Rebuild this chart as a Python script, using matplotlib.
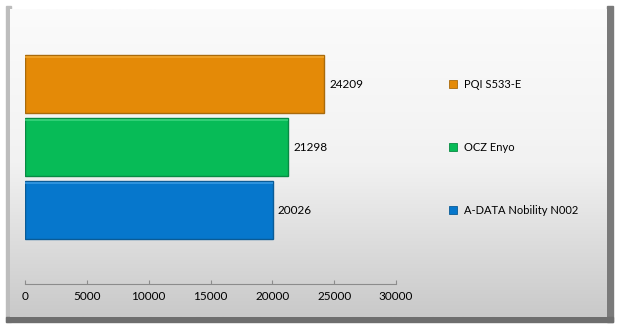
import numpy as np
import matplotlib
matplotlib.use("Agg")
import matplotlib.pyplot as plt
import matplotlib.transforms as mtransforms
from matplotlib.patches import Rectangle

# data
drives = ['A-DATA Nobility N002', 'OCZ Enyo', 'PQI S533-E']
scores = [20026, 21298, 24209]
colors = ['#0677CC', '#07BB57', '#E48A07']
edges = ['#0a5b96', '#088a43', '#a86a0c']
highlights = ['#3b9ce4', '#3fd680', '#f2a830']
xticks = [0, 5000, 10000, 15000, 20000, 25000, 30000]

plt.rcParams['font.family'] = ['Lato', 'DejaVu Sans']

W, H = 620, 328
fig = plt.figure(figsize=(W / 100, H / 100), dpi=100)

# background panel with gradient and shaded border
bg = fig.add_axes([0, 0, 1, 1])
bg.set_xlim(0, W)
bg.set_ylim(H, 0)
bg.axis('off')
bg.add_patch(Rectangle((0, 0), W, H, color='white', zorder=0))
bg.add_patch(Rectangle((6, 6), 5, 316, color='#bdbdbd', zorder=1))
bg.add_patch(Rectangle((607, 6), 6, 316, color='#7a7a7a', zorder=1))
bg.add_patch(Rectangle((6, 317), 607, 5, color='#6e6e6e', zorder=1))
grad = np.linspace(0, 1, 256)[:, None]
cmap = matplotlib.colors.LinearSegmentedColormap.from_list('bg', ['#fbfbfb', '#f2f2f2', '#c9c9c9'])
bg.imshow(grad, extent=(10, 607, 317, 9), cmap=cmap, aspect='auto', zorder=2)

# main chart
ax = fig.add_axes([25 / W, (H - 284) / H, 371 / W, 264 / H])
ax.patch.set_alpha(0)
y = np.arange(len(drives))
bh = 0.92
ax.barh(y, scores, height=bh, color=colors, edgecolor=edges, linewidth=1, zorder=3)
for yi, v, hc in zip(y, scores, highlights):
    ax.plot([0, v], [yi + bh / 2 - 0.02, yi + bh / 2 - 0.02], color=hc, lw=1.1, zorder=4,
            solid_capstyle='butt')
    ax.text(v + 400, yi, str(v), va='center', ha='left', fontsize=8.5, color='black')

ax.set_xlim(0, 30000)
ax.set_ylim(-1.167, 3.02)
ax.set_xticks(xticks)
ax.set_xticklabels([str(t) for t in xticks], fontsize=8.5)
ax.set_yticks([])
for s in ['top', 'right', 'left']:
    ax.spines[s].set_visible(False)
ax.spines['bottom'].set_color('#8c8c8c')
ax.tick_params(axis='x', direction='in', length=3, color='#8c8c8c', pad=5)

# legend entries beside each bar
tr = mtransforms.blended_transform_factory(ax.transAxes, ax.transData)
for yi, name, c, e in zip(y, drives, colors, edges):
    ax.plot([1.154], [yi], marker='s', ms=5.5, color=c, mec=e, mew=0.6,
            transform=tr, clip_on=False)
    ax.text(1.183, yi, name, transform=tr, va='center', ha='left', fontsize=8)

fig.savefig('out.png', dpi=100)
